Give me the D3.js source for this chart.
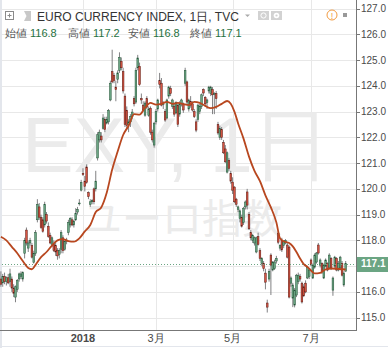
<!DOCTYPE html>
<html>
<head>
<meta charset="utf-8">
<script src="https://cdn.jsdelivr.net/npm/d3@7"></script>
<style>
body { margin: 0; background: #fff; }
svg { display: block; font-family: "Liberation Sans", Arial, sans-serif; }
</style>
</head>
<body>
<div id="chart"></div>
<script>
// daily bars, 2017-10-26 .. 2018-07-30 (TVC:EXY)
var opens = [
  116.5,116.35,116.6,116.4,116.55,116.4,116.5,116.15,115.8,116.1,
  116.5,116.6,116.5,117.5,118.4,117.7,117.9,117.8,117.15,117.5,
  118.8,119.3,118.9,118.8,118.6,119.0,118.55,118.2,117.85,117.85,
  117.8,117.6,117.45,117.65,118.1,117.65,117.95,118.3,118.6,118.8,
  118.6,118.8,119.1,119.45,119.95,120.6,120.3,120.85,119.85,119.4,
  119.5,120.0,120.0,121.2,121.9,122.05,122.35,122.7,122.55,122.6,
  123.45,124.55,124.4,123.95,124.25,124.6,124.95,124.55,123.6,123.05,
  122.5,122.6,122.8,123.5,123.37,124.7,124.75,123.5,123.25,122.86,
  123.5,122.85,123.13,122.2,121.7,122.6,123.1,124.2,124.1,123.3,
  123.0,122.75,123.6,123.9,123.2,123.2,122.95,123.25,122.9,123.3,
  123.3,124.1,124.15,123.1,123.4,123.3,123.0,122.6,122.7,123.0,
  123.2,123.85,123.55,123.35,123.8,123.7,123.85,123.7,123.7,122.5,
  122.0,122.3,121.8,121.55,120.65,121.1,120.6,120.26,120.07,119.6,
  119.2,118.85,118.9,118.7,119.3,119.88,119.0,118.3,118.0,117.9,
  117.55,118.15,117.6,117.1,117.1,116.73,115.57,116.5,117.43,116.85,
  116.9,117.2,118.28,117.7,118.0,117.8,117.9,117.82,117.74,116.34,
  115.76,115.49,115.88,116.4,116.6,116.34,116.2,116.34,116.54,116.6,
  117.24,116.54,116.96,117.16,117.82,117.04,117.1,116.54,117.0,117.1,
  116.96,117.3,116.07,117.0,117.3,116.85,116.93,117.1,116.27,116.8
];
var highs = [
  116.8,116.7,116.75,116.6,116.7,116.9,116.6,116.3,116.25,116.5,
  116.75,116.8,116.8,118.1,118.5,118.0,118.1,117.9,117.6,118.4,
  119.6,119.45,119.0,118.9,119.5,119.1,118.7,118.3,118.15,118.0,
  117.9,117.7,117.7,118.4,118.2,118.0,118.1,118.8,118.9,118.9,
  118.8,119.25,119.3,119.6,120.35,120.8,120.5,120.95,119.9,119.6,
  119.6,120.05,120.7,122.2,122.3,122.2,122.9,122.8,122.8,123.1,
  124.2,125.4,124.5,124.2,124.6,125.3,125.1,124.7,123.7,123.2,
  122.7,122.9,123.1,123.6,124.7,125.2,124.9,123.7,123.4,123.4,
  123.6,123.2,123.2,122.3,122.6,123.1,123.5,124.5,124.3,123.4,
  123.1,123.5,124.0,124.0,123.5,123.3,123.4,123.3,123.4,123.5,
  123.35,124.7,124.2,123.5,123.6,123.4,123.1,122.7,123.3,123.3,
  123.7,123.9,123.6,123.5,124.0,124.0,123.95,123.75,123.8,122.6,
  122.45,122.4,121.9,121.7,121.45,121.2,120.7,120.45,120.1,119.65,
  119.35,119.2,119.0,119.3,119.55,120.0,119.1,118.4,118.25,118.15,
  118.15,118.3,117.7,117.35,117.2,116.9,115.7,116.9,117.5,117.2,
  117.25,117.4,118.35,117.85,118.1,118.0,118.05,117.9,117.8,116.6,
  116.35,116.15,116.7,116.75,116.7,116.4,116.3,116.45,117.0,116.9,
  117.3,117.1,117.5,117.55,117.9,117.3,117.15,117.1,117.3,117.15,
  117.5,117.35,116.6,117.4,117.35,117.2,117.4,117.2,116.8,117.2
];
var lows = [
  116.2,116.2,116.3,116.25,116.3,116.2,116.0,115.8,115.6,116.0,
  116.4,116.5,116.4,117.3,117.8,117.55,117.8,117.3,117.1,117.4,
  118.7,118.8,118.45,118.3,118.5,118.65,118.1,117.85,117.75,117.55,
  117.4,117.25,117.3,117.5,117.5,117.6,117.85,118.2,118.5,118.55,
  118.5,118.75,119.0,119.35,119.9,120.5,119.9,120.2,119.6,119.3,
  119.4,119.4,119.9,121.1,121.8,121.8,122.3,122.2,122.5,122.5,
  123.4,124.1,124.1,123.4,124.1,124.5,124.6,123.7,122.4,122.3,
  122.2,122.4,122.7,123.2,123.3,124.6,124.0,123.3,123.0,122.8,
  123.1,122.8,122.1,121.8,121.6,122.5,123.0,123.9,123.2,123.1,
  122.6,122.7,123.5,123.6,123.1,122.8,122.9,122.4,122.8,123.2,
  122.95,124.0,123.3,123.0,123.15,123.0,122.75,122.2,122.6,122.9,
  123.1,123.6,123.2,123.1,123.7,123.6,122.9,122.9,123.1,122.1,
  121.9,121.9,121.35,121.0,120.6,120.7,120.2,119.8,119.45,119.3,
  119.1,118.7,118.5,118.6,119.2,119.2,118.4,118.0,117.9,117.8,
  117.5,117.8,117.2,117.0,116.8,116.1,115.2,116.4,115.88,116.8,
  116.85,117.1,117.85,117.6,117.55,117.7,117.85,117.3,115.75,116.2,
  115.41,115.4,115.8,116.3,116.4,115.55,115.8,115.95,116.5,116.5,
  117.0,116.5,116.9,117.1,117.45,116.95,116.7,116.5,116.95,116.8,
  116.9,116.85,115.85,116.9,116.8,116.8,116.85,116.6,116.2,116.8
];
var closes = [
  116.3,116.6,116.4,116.55,116.35,116.7,116.15,115.95,116.2,116.45,
  116.7,116.7,116.75,118.0,117.9,117.9,118.0,117.35,117.5,118.3,
  119.4,118.9,118.5,118.35,119.4,118.75,118.15,117.9,118.1,117.6,
  117.55,117.4,117.6,118.3,117.6,117.95,118.0,118.7,118.85,118.6,
  118.75,119.05,119.2,119.45,120.25,120.55,120.1,120.25,119.7,119.5,
  119.55,119.5,120.3,122.1,122.2,121.9,122.75,122.3,122.7,123.05,
  124.1,124.15,124.2,123.85,124.5,125.1,124.7,123.8,122.5,122.45,
  122.6,122.8,122.98,123.3,124.6,125.08,124.05,123.45,123.06,123.33,
  123.17,123.1,122.2,121.9,122.55,123.0,123.45,124.05,123.25,123.3,
  122.67,123.45,123.95,123.7,123.45,122.9,123.35,122.5,123.3,123.45,
  123.06,124.6,123.37,123.45,123.25,123.06,122.8,122.28,123.25,123.2,
  123.65,123.72,123.3,123.45,123.95,123.95,123.65,123.7,123.5,122.17,
  122.35,122.0,121.4,121.05,121.4,120.8,120.3,119.95,119.5,119.4,
  119.3,119.15,118.55,119.25,119.49,119.37,118.45,118.1,118.2,118.1,
  118.1,117.85,117.3,117.3,116.9,116.38,115.41,116.8,117.04,117.16,
  117.16,117.3,117.93,117.8,117.63,117.95,118.0,117.35,115.8,116.54,
  116.27,116.07,116.65,116.65,116.5,115.61,115.85,116.0,116.96,116.85,
  117.05,117.04,117.43,117.51,117.51,117.24,116.8,117.04,117.24,116.85,
  117.43,116.93,116.54,117.35,116.85,117.1,117.35,116.65,116.73,117.1
];

// moving average (bar number, value)
var maBars = [0,3,6,9,12,15,17,19,22,25,28,31,34,37,40,43,46,49,52,55,58,61,64,67,70,73,76,79,82,85,
  88,91,94,97,100,103,106,109,112,115,118,121,124,126,128,130,133,136,139,142,145,148,151,153,155,158,
  160,162,164,166,168,170,172,175,178,181,184,187,189];
var maValues = [118.14,118.0,117.75,117.5,117.2,116.93,116.88,117.05,117.35,117.55,117.8,118.0,118.05,117.97,
  117.95,118.08,118.35,118.6,119.1,119.28,119.85,120.75,121.45,122.09,122.45,122.9,122.88,123.15,123.34,
  123.27,123.3,123.38,123.3,123.34,123.29,123.25,123.38,123.34,123.22,123.13,123.18,123.3,123.41,123.3,
  123.0,122.55,121.95,121.25,120.7,120.3,119.75,119.28,118.7,118.08,117.97,117.9,117.77,117.55,117.3,
  117.08,116.97,116.83,116.72,116.74,116.88,116.91,116.9,116.88,116.87];

var priceTicks = [115,116,117,118,119,120,121,122,123,124,125,126,127];
var monthKeys = ["2018-01","2018-03","2018-05","2018-07"];
var monthNames = ["2018","3月","5月","7月"];
var holidays = ["2017-11-23","2017-12-25","2018-01-01","2018-01-15","2018-02-19","2018-03-30","2018-05-28","2018-07-04"];
var lastPrice = 117.1;
var legendLabels = ["始値","高値","安値","終値"];
var legendValues = ["116.8","117.2","116.8","117.1"];

var width = 388, height = 348,
	plotRight = 356, plotBottom = 330;

var upColor = "#6ba583", downColor = "#d75442",
	upBorder = "#225437", downBorder = "#5b1a13",
	wickColor = "#737375", gridColor = "#e8e8e8";

// trading days
var dayKey = d3.utcFormat("%Y-%m-%d"), monKey = d3.utcFormat("%Y-%m");
var dates = d3.utcDays(new Date(Date.UTC(2017, 9, 26)), new Date(Date.UTC(2018, 6, 31)))
	.filter(function(d) { return d.getUTCDay() % 6 !== 0 && holidays.indexOf(dayKey(d)) < 0; });

var x = d3.scaleLinear().domain([0, dates.length - 1]).range([0.9, 345.7]);
var y = d3.scaleLinear().domain([115, 127]).range([317.7, 8.5]);

var svg = d3.select("#chart").append("svg")
	.attr("width", width)
	.attr("height", height);

svg.append("rect").attr("width", width).attr("height", height).attr("fill", "#fff");
svg.append("rect").attr("x", 0).attr("y", 0).attr("width", 2).attr("height", height).attr("fill", "#e3e6ec");

// month positions
var monthIdx = monthKeys.map(function(k) {
	for (var i = 0; i < dates.length; i++) if (monKey(dates[i]) === k) return i;
	return 0;
});

// grid
svg.append("g").selectAll("line.h")
	.data(priceTicks).enter().append("line")
	.attr("x1", 2).attr("x2", plotRight)
	.attr("y1", function(d) { return Math.round(y(d)) + 0.5; })
	.attr("y2", function(d) { return Math.round(y(d)) + 0.5; })
	.style("stroke", gridColor);

svg.append("g").selectAll("line.v")
	.data(monthIdx).enter().append("line")
	.attr("x1", function(d) { return Math.round(x(d)) + 0.5; })
	.attr("x2", function(d) { return Math.round(x(d)) + 0.5; })
	.attr("y1", 0).attr("y2", plotBottom)
	.style("stroke", gridColor);

// watermark
svg.append("text")
	.attr("x", 22).attr("y", 172)
	.attr("textLength", 308).attr("lengthAdjust", "spacingAndGlyphs")
	.style("font-size", "78px")
	.style("fill", "#ebebeb")
	.text("EXY, 1日");
svg.append("text")
	.attr("x", 182).attr("y", 233)
	.attr("text-anchor", "middle")
	.style("font-family", "'Noto Sans CJK JP', sans-serif")
	.style("font-size", "40px")
	.style("fill", "#ebebeb")
	.text("ユーロ指数");

// candles
var bars = d3.range(dates.length);
var g = svg.append("g");

g.selectAll("line.wick")
	.data(bars).enter().append("line")
	.attr("x1", function(i) { return x(i); })
	.attr("x2", function(i) { return x(i); })
	.attr("y1", function(i) { return y(highs[i]); })
	.attr("y2", function(i) { return y(lows[i]); })
	.style("stroke", wickColor)
	.style("stroke-width", 0.9);

g.selectAll("rect.body")
	.data(bars).enter().append("rect")
	.attr("x", function(i) { return x(i) - 0.85; })
	.attr("width", 1.7)
	.attr("y", function(i) { return y(Math.max(opens[i], closes[i])); })
	.attr("height", function(i) { return Math.max(0.8, Math.abs(y(opens[i]) - y(closes[i]))); })
	.style("fill", function(i) { return closes[i] >= opens[i] ? upColor : downColor; })
	.style("stroke", function(i) { return closes[i] >= opens[i] ? upBorder : downBorder; })
	.style("stroke-width", 0.5);

// last price line
svg.append("line")
	.attr("x1", 2).attr("x2", plotRight)
	.attr("y1", Math.round(y(lastPrice)) + 0.5).attr("y2", Math.round(y(lastPrice)) + 0.5)
	.style("stroke", upColor)
	.style("stroke-dasharray", "1,2");

// moving average
var maLine = d3.line()
	.x(function(d, i) { return x(maBars[i]); })
	.y(function(d) { return y(d); })
	.curve(d3.curveMonotoneX);
svg.append("path")
	.datum(maValues)
	.attr("d", maLine)
	.style("fill", "none")
	.style("stroke", "#b8471f")
	.style("stroke-width", 1.8);

// price axis
svg.append("line")
	.attr("x1", plotRight + 0.5).attr("x2", plotRight + 0.5)
	.attr("y1", 0).attr("y2", plotBottom + 0.5)
	.style("stroke", "#777");
var axisTicks = priceTicks.filter(function(d) { return Math.abs(d - lastPrice) > 0.4; });
svg.append("g").selectAll("line.tick")
	.data(axisTicks).enter().append("line")
	.attr("x1", plotRight).attr("x2", plotRight + 4)
	.attr("y1", function(d) { return Math.round(y(d)) + 0.5; })
	.attr("y2", function(d) { return Math.round(y(d)) + 0.5; })
	.style("stroke", "#777");
svg.append("g").selectAll("text.tick")
	.data(axisTicks).enter().append("text")
	.attr("x", 361)
	.attr("y", function(d) { return y(d); })
	.attr("dy", "0.35em")
	.style("font-size", "10px")
	.style("fill", "#4a4a4a")
	.text(function(d) { return d3.format(".1f")(d); });

svg.append("rect")
	.attr("x", plotRight + 1).attr("y", Math.round(y(lastPrice)) - 7)
	.attr("width", width - plotRight - 1).attr("height", 15)
	.attr("fill", upColor);
svg.append("text")
	.attr("x", 361).attr("y", y(lastPrice))
	.attr("dy", "0.38em")
	.style("font-size", "10px")
	.style("font-weight", "bold")
	.style("fill", "#fff")
	.text(d3.format(".1f")(lastPrice));

// time axis
svg.append("line")
	.attr("x1", 0).attr("x2", plotRight + 1)
	.attr("y1", plotBottom + 0.5).attr("y2", plotBottom + 0.5)
	.style("stroke", "#777");
svg.append("line")
	.attr("x1", 0).attr("x2", width)
	.attr("y1", 346.5).attr("y2", 346.5)
	.style("stroke", "#e3e6ec");
svg.append("g").selectAll("text.month")
	.data(monthIdx).enter().append("text")
	.attr("x", function(d) { return x(d); })
	.attr("y", 342)
	.attr("text-anchor", "middle")
	.style("font-size", "11px")
	.style("font-weight", function(d, i) { return i === 0 ? "bold" : "normal"; })
	.style("fill", "#4a4a4a")
	.text(function(d, i) { return monthNames[i]; });

// header
var head = svg.append("g");
head.append("rect").attr("x", 5.5).attr("y", 11.5).attr("width", 8).attr("height", 8)
	.style("fill", "#fff").style("stroke", "#8a8a8a");
head.append("path").attr("d", "M7.5,15.5H11.5M9.5,13.5V17.5").style("stroke", "#8a8a8a");
head.append("path").attr("d", "M24,11H31V21H24L26.5,16Z").style("fill", "#c8c8c8");
head.append("text")
	.attr("x", 37).attr("y", 20.5)
	.style("font-size", "12px")
	.style("fill", "#333")
	.text("EURO CURRENCY INDEX, 1日, TVC");
head.append("path").attr("d", "M245,14.5H250L247.5,17Z").style("fill", "#aaa");
head.append("rect").attr("x", 258).attr("y", 11).attr("width", 11).attr("height", 9).style("fill", "#d2d2d2");
head.append("circle").attr("cx", 263.5).attr("cy", 15.5).attr("r", 2.6).style("fill", "none").style("stroke", "#fff");
head.append("rect").attr("x", 271).attr("y", 11).attr("width", 11).attr("height", 9).style("fill", "#d2d2d2");
head.append("circle").attr("cx", 276.5).attr("cy", 15.5).attr("r", 2.8).style("fill", "#fff");
head.append("circle").attr("cx", 276.5).attr("cy", 15.5).attr("r", 1.1).style("fill", "#d2d2d2");
head.append("circle").attr("cx", 332).attr("cy", 15).attr("r", 5)
	.style("fill", "#fff").style("stroke", "#f29a3f");
head.append("text").attr("x", 332).attr("y", 18.5).attr("text-anchor", "middle")
	.style("font-size", "9px").style("fill", "#f29a3f").text("!");
head.append("rect").attr("x", 343).attr("y", 13).attr("width", 4).attr("height", 4).style("fill", "#999");

var legendX = [5, 68, 128, 190];
legendLabels.forEach(function(lab, i) {
	var t = head.append("text")
		.attr("x", legendX[i]).attr("y", 36.5)
		.style("font-size", "11px");
	t.append("tspan").style("fill", "#555").text(lab);
	t.append("tspan").attr("dx", 3).style("fill", "#26713f").text(legendValues[i]);
});
</script>
</body>
</html>
